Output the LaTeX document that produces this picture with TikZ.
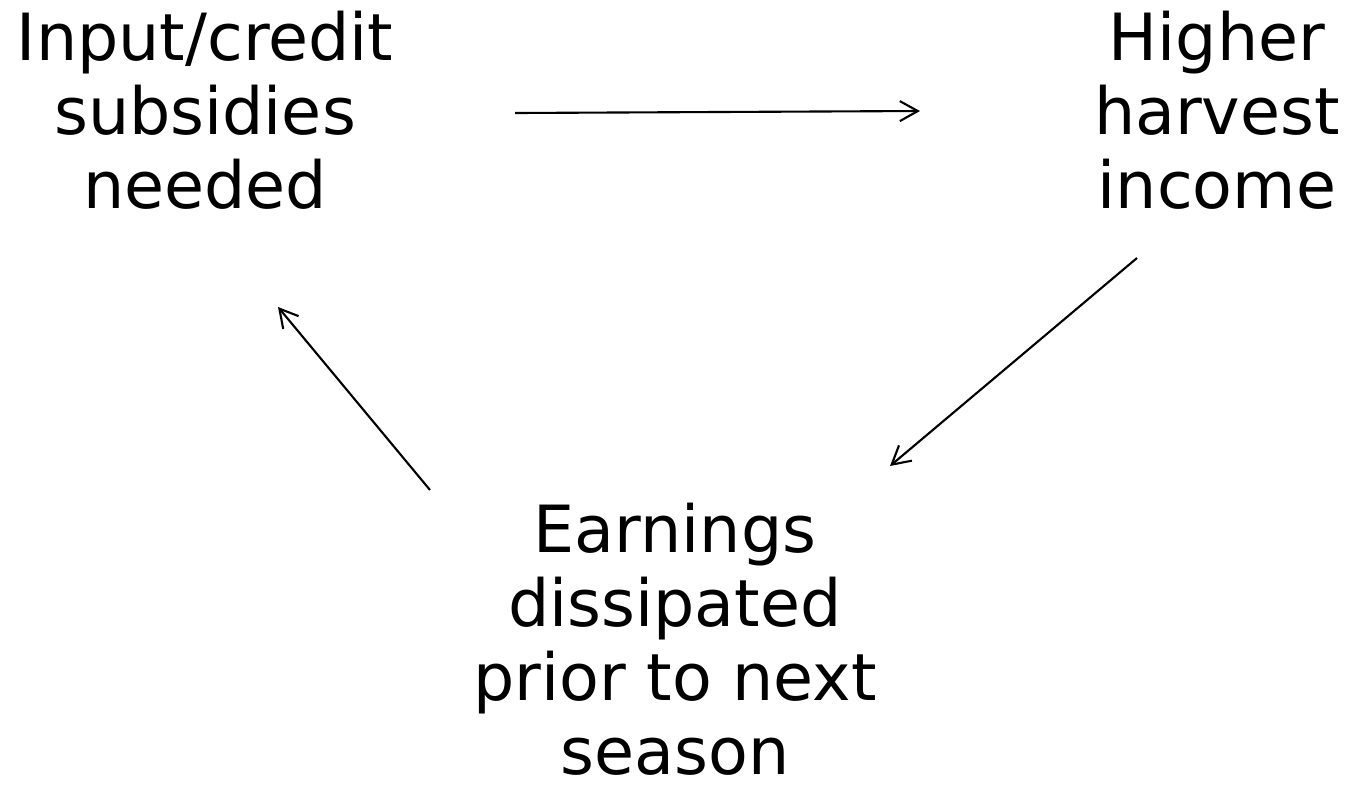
\documentclass[tikz,border=0pt]{standalone}
\usepackage{fontspec}
\setmainfont{DejaVu Sans}
\usepackage{tikz}
\usetikzlibrary{positioning,arrows.meta}
\tikzset{stage/.style={align=center,inner sep=0pt,font=\fontsize{18.5}{21.1}\selectfont},
    link/.style={line width=0.6pt,-{Straight Barb[length=0.18cm,width=0.2cm]}}}

\begin{document}
\begin{tikzpicture}[x=0.01cm,y=-0.01cm] % 1 unit = 1 px
    \useasboundingbox (0,0) rectangle (1349,784);
    \node[stage,anchor=north] (subsidy) at (205,10) {Input/credit\\subsidies\\needed};
    \node[stage,anchor=north] (harvest) at (1217,10) {Higher\\harvest\\income};
    \node[stage,anchor=north] (earnings) at (675,502) {Earnings\\dissipated\\prior to next\\season};
    % ends of the arrows
    \coordinate (s1) at (515,113);
    \coordinate (h1) at (920,111);
    \coordinate (h2) at (1137,258);
    \coordinate (e1) at (890,466);
    \coordinate (e2) at (430,490);
    \coordinate (s2) at (278,307);
    \draw[link] (s1) -- (h1);
    \draw[link] (h2) -- (e1);
    \draw[link] (e2) -- (s2);
\end{tikzpicture}
\end{document}
